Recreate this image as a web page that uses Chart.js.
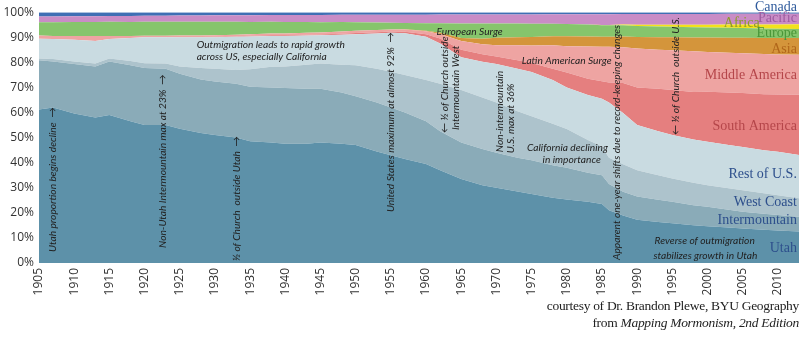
<!DOCTYPE html>
<html>
<head>
<meta charset="utf-8">
<title>Church membership by region, 1905-2013</title>
<script src="https://cdn.jsdelivr.net/npm/chart.js@4.4.1/dist/chart.umd.min.js"></script>
<style>
  html, body { margin: 0; padding: 0; background: #fff; }
  #wrap { position: relative; width: 800px; height: 342px; overflow: hidden; }
  .credit {
    position: absolute; right: 1px;
    font-family: 'Liberation Serif', serif; font-size: 13.5px; color: #222;
    letter-spacing: -0.3px; white-space: nowrap; line-height: 17px;
  }
</style>
</head>
<body>
<div id="wrap">
  <canvas id="chart" width="800" height="342"></canvas>
  <div class="credit" style="top:297px">courtesy of Dr. Brandon Plewe, BYU Geography</div>
  <div class="credit" style="top:314px">from <i>Mapping Mormonism, 2nd Edition</i></div>
</div>
<script>
// ---- data (share of membership, %) ----
const years = [1905,1907,1910,1913,1915,1918,1920,1923,1925,1928,1930,1933,1935,1938,1940,1943,1945,1948,1950,1953,1955,1957,1960,1962,1965,1968,1970,1973,1975,1978,1980,1983,1985,1986,1988,1990,1993,1995,1998,2000,2003,2005,2008,2010,2013];

const utah = [61.2,62.0,59.6,58.0,59.0,56.5,55.0,55.0,53.5,51.8,51.0,50.0,48.5,48.0,47.5,47.5,48.0,47.5,47.0,44.5,43.0,41.5,39.5,37.0,33.5,31.0,30.0,28.5,27.5,26.0,25.3,24.4,23.5,21.0,19.0,17.2,16.3,15.8,15.1,14.7,14.2,13.8,13.3,12.9,12.5];
const intermountain = [19.6,18.3,19.7,20.3,21.3,22.3,22.8,22.5,22.0,21.4,21.4,21.5,21.8,22.0,22.3,22.0,21.5,20.5,19.5,19.5,19.0,18.5,17.0,15.5,14.5,14.5,14.0,13.5,13.5,13.0,12.7,11.6,11.5,10.5,9.5,9.3,8.9,8.6,7.9,7.7,7.0,6.6,6.3,6.2,5.9];
const westCoast = [0.7,1.0,1.0,1.2,1.2,1.7,1.8,2.0,2.8,4.6,5.1,5.5,7.0,8.2,8.5,9.5,10.0,11.0,12.3,13.5,14.3,15.0,16.5,19.0,21.0,20.5,20.0,18.5,17.5,16.5,15.5,13.0,11.5,10.5,11.0,10.5,9.8,9.3,9.0,8.6,8.6,8.6,8.2,7.9,7.4];
const restUS = [7.9,8.0,8.7,9.0,7.8,9.2,10.4,10.5,11.7,12.2,12.5,13.2,13.0,12.3,12.2,11.7,11.3,12.0,12.4,14.0,15.5,16.6,17.2,16.0,13.0,14.2,15.3,17.0,17.7,17.5,16.5,18.0,19.0,22.0,20.5,18.0,17.5,17.3,17.2,17.3,17.2,17.3,17.2,17.3,17.2];
const southAmerica = [0,0,0,0,0,0,0,0,0.1,0.1,0.2,0.2,0.3,0.3,0.3,0.3,0.3,0.4,0.5,0.5,0.5,0.6,1.0,2.0,3.0,3.0,3.0,3.3,3.5,4.5,6.0,6.5,7.0,8.0,12.0,15.0,17.0,18.0,19.0,20.0,21.0,21.5,22.3,22.8,24.0];
const middleAmerica = [1.3,1.2,1.5,2.0,1.2,0.8,0.6,0.6,0.6,0.6,0.6,0.6,0.6,0.7,0.7,0.8,0.8,0.9,0.9,0.9,0.8,0.9,1.2,1.8,3.5,4.0,4.5,6.0,7.0,9.3,10.5,12.8,13.7,14.2,14.3,15.5,15.5,15.8,16.2,15.8,15.8,15.8,16.0,16.0,16.0];
const asia = [0,0,0,0,0,0,0,0,0,0,0,0,0,0,0,0,0,0,0,0,0,0.1,0.2,0.5,1.2,2.2,3.0,3.2,3.4,3.6,4.0,4.0,4.0,4.0,4.3,4.6,5.0,5.2,5.5,5.8,6.0,6.2,6.4,6.5,6.6];
const europe = [5.3,5.5,5.6,5.6,5.7,5.6,5.6,5.6,5.5,5.5,5.4,5.2,4.9,4.7,4.6,4.3,4.1,3.8,3.4,3.0,2.7,2.5,3.0,3.8,5.8,6.1,5.7,5.5,5.3,5.0,4.9,4.8,4.6,4.6,4.5,4.4,4.3,4.2,4.1,4.0,4.0,3.9,3.8,3.7,3.6];
const africa = [0,0,0,0,0,0,0,0,0,0,0,0,0,0,0,0,0,0,0,0,0,0,0,0,0,0,0,0,0,0,0,0,0.1,0.1,0.3,0.5,0.7,0.8,1.0,1.1,1.3,1.4,1.6,1.7,1.9];
const pacific = [2.3,2.3,2.3,2.3,2.3,2.4,2.4,2.4,2.5,2.5,2.6,2.6,2.7,2.7,2.8,2.8,2.9,2.9,3.0,3.1,3.2,3.3,3.4,3.5,3.6,3.6,3.6,3.6,3.7,3.8,3.9,4.1,4.3,4.3,4.2,4.3,4.3,4.3,4.3,4.3,4.3,4.3,4.3,4.3,4.2];
const canada = [1.7,1.7,1.6,1.6,1.5,1.5,1.4,1.4,1.3,1.3,1.2,1.2,1.2,1.1,1.1,1.1,1.1,1.0,1.0,1.0,1.0,1.0,1.0,0.9,0.9,0.9,0.9,0.9,0.9,0.8,0.8,0.8,0.8,0.8,0.7,0.7,0.7,0.7,0.7,0.7,0.6,0.6,0.6,0.6,0.6];

const seriesNames = ['Utah','Intermountain','West Coast','Rest of U.S.','South America','Middle America','Asia','Europe','Africa','Pacific','Canada'];
const seriesValues = [utah, intermountain, westCoast, restUS, southAmerica, middleAmerica, asia, europe, africa, pacific, canada];
const yTicks = [0,10,20,30,40,50,60,70,80,90,100];

// ---- styles ----
const fillColors = ['#5d91a9','#8aabb8','#adc3cc','#c9dbe1','#e57f7f','#eea4a2','#d4953b','#86c56c','#f2e21c','#c98cc6','#3f6fb4'];
const labelColors = ['#2d4f8c','#2d4f8c','#2d4f8c','#2d4f8c','#b5464a','#b5464a','#b0661a','#4a9638','#8c9b2a','#9d5ba0','#2e5a9c'];
// where each region name sits (year, percent), right-aligned
const labelSpots = [[2012.7,6],[2012.7,17.1],[2012.7,24.3],[2012.7,35.5],[2012.7,54.6],[2012.7,74.9],[2012.7,85.3],[2012.7,91.6],[2007.4,95.6],[2012.7,97.6],[2012.7,102]];

// annotations: [text, year, percent, rotated, align]
const notes = [
  ['Utah proportion begins decline  \u2192', 1907, 4.4, true, 'left'],
  ['Non-Utah Intermountain max at 23%  \u2192', 1922.6, 6, true, 'left'],
  ['\u00bd of Church  outside Utah  \u2192', 1933.1, 0.8, true, 'left'],
  ['United States maximum at almost 92%  \u2192', 1955, 20.3, true, 'left'],
  ['\u2190 \u00bd of Church outside', 1962.6, 51.8, true, 'left'],
  ['Intermountain West', 1964.2, 53, true, 'left'],
  ['Non-intermountain', 1970.4, 44.2, true, 'left'],
  ['U.S. max at 36%', 1972, 43.8, true, 'left'],
  ['Apparent one-year shifts due to record-keeping changes', 1987.1, 1.2, true, 'left'],
  ['\u2190 \u00bd of Church  outside U.S.', 1995.5, 51, true, 'left'],
  ['Outmigration leads to rapid growth', 1927.4, 86.9, false, 'left'],
  ['across US, especially California', 1927.4, 82.1, false, 'left'],
  ['European Surge', 1961.5, 92.4, false, 'left'],
  ['Latin American Surge', 1973.6, 80.5, false, 'left'],
  ['California declining', 1980.1, 45.8, false, 'center'],
  ['in importance', 1980.7, 41, false, 'center'],
  ['Reverse of outmigration', 1999.6, 8.8, false, 'center'],
  ['stabilizes growth in Utah', 1999.7, 2.8, false, 'center']
];

// each year is drawn as share of that year's total
const totals = years.map((_, i) => seriesValues.reduce((s, arr) => s + arr[i], 0));

const datasets = seriesNames.map((name, k) => ({
  label: name,
  data: years.map((yr, i) => ({ x: yr, y: seriesValues[k][i] * 100 / totals[i] })),
  backgroundColor: fillColors[k],
  borderWidth: 0,
  pointRadius: 0,
  tension: 0,
  fill: k === 0 ? 'origin' : '-1'
}));

const textPlugin = {
  id: 'chartText',
  afterDraw(chart) {
    const { ctx } = chart;
    const xs = chart.scales.x, ys = chart.scales.y;
    ctx.save();
    ctx.textBaseline = 'middle';
    ctx.fillStyle = '#222';
    ctx.font = 'italic 10.2px Lato, "DejaVu Sans", sans-serif';
    notes.forEach(([text, yr, pct, rot, align]) => {
      ctx.save();
      ctx.translate(xs.getPixelForValue(yr), ys.getPixelForValue(pct));
      if (rot) ctx.rotate(-Math.PI / 2);
      ctx.textAlign = align;
      ctx.fillText(text, 0, 0);
      ctx.restore();
    });
    ctx.font = '14px "Liberation Serif", serif';
    ctx.textAlign = 'right';
    seriesNames.forEach((name, k) => {
      const [yr, pct] = labelSpots[k];
      ctx.fillStyle = labelColors[k];
      ctx.fillText(name, xs.getPixelForValue(yr), ys.getPixelForValue(pct));
    });
    ctx.restore();
  }
};

new Chart(document.getElementById('chart'), {
  type: 'line',
  data: { datasets },
  plugins: [textPlugin],
  options: {
    responsive: false,
    animation: false,
    layout: { padding: { top: 12, right: 1, left: 0, bottom: 0 } },
    plugins: { legend: { display: false }, tooltip: { enabled: false } },
    scales: {
      x: {
        type: 'linear',
        min: 1905,
        max: 2013,
        z: 1,
        border: { display: false },
        grid: { color: 'rgba(255,255,255,0.55)', lineWidth: 1, drawTicks: false },
        ticks: {
          stepSize: 5,
          includeBounds: false,
          autoSkip: false,
          minRotation: 90,
          maxRotation: 90,
          padding: 5,
          color: '#333',
          font: { family: 'Open Sans', size: 12 },
          callback: v => String(v)
        },
        afterFit: s => { s.height = 79; }
      },
      y: {
        stacked: true,
        min: 0,
        max: 100,
        z: 1,
        border: { display: false },
        grid: { color: 'rgba(255,255,255,0.55)', lineWidth: 1, drawTicks: false },
        afterBuildTicks: s => { s.ticks = yTicks.map(v => ({ value: v })); },
        ticks: {
          padding: 5,
          color: '#333',
          font: { family: 'Open Sans', size: 12 },
          callback: v => v + '%'
        },
        afterFit: s => { s.width = 39; }
      }
    }
  }
});
</script>
</body>
</html>
